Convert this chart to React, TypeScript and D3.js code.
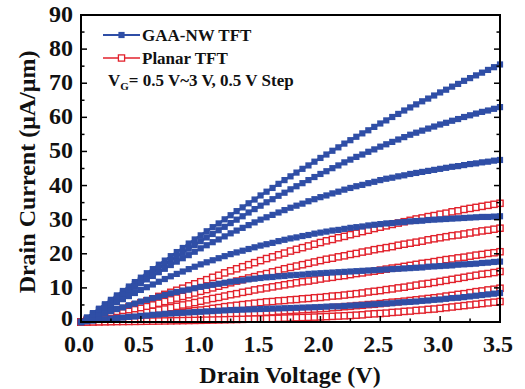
import React from "react";
import * as d3 from "d3";

const VD = [0,0.05,0.1,0.15,0.2,0.25,0.3,0.35,0.4,0.45,0.5,0.55,0.6,0.65,0.7,0.75,0.8,0.85,0.9,0.95,1,1.05,1.1,1.15,1.2,1.25,1.3,1.35,1.4,1.45,1.5,1.55,1.6,1.65,1.7,1.75,1.8,1.85,1.9,1.95,2,2.05,2.1,2.15,2.2,2.25,2.3,2.35,2.4,2.45,2.5,2.55,2.6,2.65,2.7,2.75,2.8,2.85,2.9,2.95,3,3.05,3.1,3.15,3.2,3.25,3.3,3.35,3.4,3.45,3.5];

// GAA-NW TFT, VG = 3.0 ... 0.5 V
const gaa30 = [0,1.3,2.6,3.9,5.2,6.5,7.8,9.1,10.4,11.7,13.0,14.3,15.5,16.8,18.0,19.3,20.5,21.7,23.0,24.2,25.4,26.6,27.8,28.9,30.1,31.3,32.5,33.6,34.8,35.9,37.1,38.2,39.3,40.5,41.6,42.7,43.8,44.9,45.9,47.0,48.1,49.1,50.2,51.2,52.3,53.3,54.3,55.3,56.2,57.2,58.2,59.1,60.1,61.0,62.0,62.9,63.8,64.7,65.5,66.4,67.3,68.1,69.0,69.8,70.7,71.5,72.3,73.1,73.9,74.7,75.5];
const gaa25 = [0,1.2,2.5,3.7,5.0,6.2,7.4,8.6,9.9,11.1,12.3,13.5,14.6,15.8,16.9,18.1,19.2,20.3,21.5,22.6,23.7,24.8,25.8,26.9,27.9,29.0,30.0,31.0,32.1,33.1,34.1,35.1,36.0,37.0,37.9,38.9,39.8,40.7,41.6,42.5,43.4,44.2,45.1,45.9,46.8,47.6,48.4,49.1,49.9,50.6,51.4,52.1,52.8,53.5,54.2,54.9,55.5,56.1,56.7,57.3,57.9,58.4,59.0,59.5,60.1,60.6,61.1,61.6,62.0,62.5,63.0];
const gaa20 = [0,1.2,2.3,3.5,4.6,5.8,6.9,8.0,9.2,10.3,11.4,12.5,13.5,14.6,15.6,16.7,17.7,18.7,19.6,20.6,21.6,22.5,23.4,24.2,25.1,26.0,26.8,27.6,28.4,29.2,30.0,30.7,31.4,32.1,32.8,33.5,34.1,34.7,35.4,36.0,36.6,37.1,37.7,38.2,38.8,39.3,39.8,40.2,40.7,41.1,41.6,42.0,42.3,42.7,43.0,43.4,43.7,44.0,44.3,44.6,44.9,45.2,45.5,45.7,46.0,46.3,46.5,46.8,47.0,47.3,47.5];
const gaa15 = [0,1.0,2.0,2.9,3.9,4.9,5.8,6.7,7.6,8.5,9.4,10.2,11.0,11.8,12.6,13.4,14.1,14.8,15.5,16.2,16.9,17.5,18.1,18.7,19.3,19.9,20.4,20.9,21.4,21.9,22.4,22.8,23.2,23.7,24.1,24.5,24.8,25.2,25.5,25.9,26.2,26.5,26.8,27.0,27.3,27.6,27.8,28.0,28.3,28.5,28.7,28.9,29.0,29.2,29.3,29.5,29.6,29.7,29.9,30.0,30.1,30.2,30.3,30.4,30.5,30.6,30.7,30.8,30.8,30.9,31.0];
const gaa10 = [0,0.6,1.3,1.9,2.6,3.2,3.8,4.3,4.9,5.4,6.0,6.5,7.0,7.4,7.9,8.4,8.8,9.2,9.5,9.9,10.3,10.6,10.9,11.2,11.5,11.8,12.0,12.2,12.5,12.7,12.9,13.1,13.2,13.4,13.5,13.7,13.8,13.9,14.1,14.2,14.3,14.4,14.5,14.6,14.7,14.8,14.9,15.0,15.1,15.2,15.3,15.4,15.5,15.6,15.7,15.8,15.9,16.0,16.2,16.3,16.4,16.5,16.6,16.8,16.9,17.0,17.1,17.3,17.4,17.6,17.7];
const gaa05 = [0,0.2,0.4,0.6,0.8,1.0,1.2,1.3,1.5,1.6,1.8,1.9,2.1,2.2,2.4,2.5,2.6,2.7,2.8,2.9,3.0,3.1,3.2,3.3,3.4,3.5,3.56,3.62,3.68,3.74,3.8,3.86,3.92,3.98,4.04,4.1,4.16,4.22,4.28,4.34,4.4,4.5,4.6,4.6,4.7,4.8,4.9,5.0,5.1,5.2,5.3,5.4,5.5,5.7,5.8,5.9,6.0,6.2,6.3,6.5,6.6,6.8,7.0,7.1,7.3,7.5,7.7,7.9,8.1,8.3,8.5];

// Planar TFT, VG = 3.0 ... 0.5 V
const pl30 = [0,0.5,1.0,1.6,2.1,2.6,3.2,3.8,4.4,5.0,5.6,6.2,6.8,7.5,8.1,8.7,9.3,9.9,10.6,11.2,11.8,12.4,13.1,13.7,14.4,15.0,15.6,16.2,16.8,17.4,18.0,18.6,19.1,19.7,20.2,20.8,21.3,21.8,22.3,22.8,23.3,23.8,24.2,24.7,25.1,25.6,26.0,26.5,26.9,27.4,27.8,28.2,28.6,29.0,29.4,29.8,30.2,30.5,30.9,31.2,31.6,31.9,32.3,32.6,33.0,33.3,33.6,33.9,34.2,34.5,34.8];
const pl25 = [0,0.4,0.7,1.1,1.4,1.8,2.2,2.7,3.1,3.6,4.0,4.5,5.0,5.5,6.0,6.5,7.0,7.5,8.0,8.5,9.0,9.5,10.0,10.5,11.0,11.5,12.0,12.4,12.9,13.3,13.8,14.2,14.7,15.1,15.6,16.0,16.4,16.8,17.2,17.6,18.0,18.4,18.7,19.1,19.4,19.8,20.1,20.5,20.8,21.2,21.5,21.8,22.1,22.5,22.8,23.1,23.4,23.7,24.1,24.4,24.7,25.0,25.3,25.5,25.8,26.1,26.4,26.7,26.9,27.2,27.5];
const pl20 = [0,0.2,0.4,0.6,0.8,1.0,1.3,1.6,1.8,2.1,2.4,2.8,3.1,3.5,3.8,4.2,4.6,5.0,5.3,5.7,6.1,6.5,6.9,7.2,7.6,8.0,8.3,8.7,9.0,9.4,9.7,10.0,10.3,10.6,10.9,11.2,11.5,11.8,12.0,12.3,12.6,12.9,13.1,13.4,13.6,13.9,14.2,14.4,14.7,14.9,15.2,15.5,15.8,16.0,16.3,16.6,16.9,17.2,17.4,17.7,18.0,18.3,18.5,18.8,19.0,19.3,19.6,19.8,20.1,20.3,20.6];
const pl15 = [0,0.1,0.2,0.3,0.4,0.5,0.7,0.8,1.0,1.1,1.3,1.5,1.7,1.9,2.1,2.3,2.5,2.8,3.0,3.3,3.5,3.7,4.0,4.2,4.5,4.7,4.9,5.1,5.3,5.5,5.7,5.9,6.0,6.2,6.3,6.5,6.6,6.8,6.9,7.1,7.2,7.4,7.6,7.7,7.9,8.1,8.3,8.5,8.8,9.0,9.2,9.5,9.7,10.0,10.2,10.5,10.8,11.1,11.3,11.6,11.9,12.2,12.5,12.8,13.1,13.4,13.7,14.0,14.2,14.5,14.8];
const pl10 = [0,0.04,0.08,0.12,0.16,0.2,0.26,0.32,0.38,0.44,0.5,0.6,0.7,0.8,0.9,1.0,1.1,1.2,1.4,1.5,1.6,1.7,1.8,2.0,2.1,2.2,2.3,2.4,2.6,2.7,2.8,2.9,3.0,3.2,3.3,3.4,3.5,3.6,3.7,3.8,3.9,4.0,4.2,4.3,4.5,4.6,4.8,4.9,5.1,5.2,5.4,5.6,5.8,5.9,6.1,6.3,6.5,6.7,6.9,7.1,7.3,7.6,7.8,8.1,8.3,8.6,8.9,9.1,9.4,9.6,9.9];
const pl05 = [0,0.02,0.04,0.06,0.08,0.1,0.12,0.14,0.16,0.18,0.2,0.23,0.26,0.29,0.32,0.35,0.38,0.41,0.44,0.47,0.5,0.54,0.58,0.62,0.66,0.7,0.74,0.78,0.82,0.86,0.9,0.96,1.02,1.08,1.14,1.2,1.26,1.32,1.38,1.44,1.5,1.58,1.66,1.74,1.82,1.9,2.0,2.1,2.3,2.4,2.5,2.6,2.8,2.9,3.1,3.2,3.4,3.5,3.7,3.8,4.0,4.2,4.4,4.6,4.8,5.0,5.2,5.4,5.6,5.8,6.0];

const GAA = [gaa30, gaa25, gaa20, gaa15, gaa10, gaa05];
const PLANAR = [pl30, pl25, pl20, pl15, pl10, pl05];

const X_TICKS = [0, 0.5, 1.0, 1.5, 2.0, 2.5, 3.0, 3.5];
const Y_TICKS = [0, 10, 20, 30, 40, 50, 60, 70, 80, 90];
const LEGEND = ["GAA-NW TFT", "Planar TFT"];

const BLUE = "#2f4ea6";
const RED = "#e2222c";
const FONT = "'Liberation Serif', 'Times New Roman', serif";

export default function App() {
  const W = 525, H = 389;
  const x = d3.scaleLinear().domain([0, 3.5]).range([81, 500]);
  const y = d3.scaleLinear().domain([0, 90]).range([322, 15]);
  const line = d3.line<number>().x((_, i) => x(VD[i])).y((d) => y(d));

  const xMinor = d3.range(0, 3.5001, 0.25);
  const yMinor = d3.range(0, 90.001, 5);
  const ms = 6.2;

  return (
    <svg width={W} height={H} style={{ position: "absolute", left: 0, top: 0, background: "#fff" }} fontFamily={FONT}>
      <rect x={0} y={0} width={W} height={H} fill="#fff" />
      {/* planar curves */}
      {PLANAR.map((s, k) => (
        <g key={"p" + k}>
          <path d={line(s) || ""} fill="none" stroke={RED} strokeWidth={1.2} />
          {s.map((v, i) => (
            <rect key={i} x={x(VD[i]) - ms / 2} y={y(v) - ms / 2} width={ms} height={ms} fill="#fff" stroke={RED} strokeWidth={1.4} />
          ))}
        </g>
      ))}
      {/* GAA curves */}
      {GAA.map((s, k) => (
        <g key={"g" + k}>
          <path d={line(s) || ""} fill="none" stroke={BLUE} strokeWidth={2.4} />
          {s.map((v, i) => (
            <rect key={i} x={x(VD[i]) - ms / 2} y={y(v) - ms / 2} width={ms} height={ms} fill={BLUE} />
          ))}
        </g>
      ))}
      {/* frame */}
      <rect x={x(0)} y={y(90)} width={x(3.5) - x(0)} height={y(0) - y(90)} fill="none" stroke="#000" strokeWidth={2} />
      {/* ticks */}
      {xMinor.map((t, i) => {
        const major = i % 2 === 0;
        const len = major ? 6 : 3.5;
        return <line key={"xt" + i} x1={x(t)} x2={x(t)} y1={y(0)} y2={y(0) - len} stroke="#000" strokeWidth={1.5} />;
      })}
      {yMinor.map((t, i) => {
        const major = i % 2 === 0;
        const len = major ? 6 : 3.5;
        return (
          <g key={"yt" + i}>
            <line x1={x(0)} x2={x(0) + len} y1={y(t)} y2={y(t)} stroke="#000" strokeWidth={1.5} />
            <line x1={x(3.5)} x2={x(3.5) - len} y1={y(t)} y2={y(t)} stroke="#000" strokeWidth={1.5} />
          </g>
        );
      })}
      {X_TICKS.map((t) => (
        <text key={"xl" + t} x={x(t) - 2} y={352} textAnchor="middle" fontSize={24} fontWeight="bold" fill="#111">
          {t.toFixed(1)}
        </text>
      ))}
      {Y_TICKS.map((t) => (
        <text key={"yl" + t} x={73} y={y(t) + (t === 0 ? 4 : 7)} textAnchor="end" fontSize={24} fontWeight="bold" fill="#111">
          {t}
        </text>
      ))}
      <text x={290} y={383} textAnchor="middle" fontSize={24} fontWeight="bold" fill="#111">
        Drain Voltage (V)
      </text>
      <text transform={`translate(35,${172}) rotate(-90)`} textAnchor="middle" fontSize={24} fontWeight="bold" fill="#111">
        Drain Current (μA/μm)
      </text>
      {/* legend */}
      <g>
        <line x1={103} x2={140} y1={35} y2={35} stroke={BLUE} strokeWidth={2.2} />
        <rect x={121.5 - ms / 2} y={35 - ms / 2} width={ms} height={ms} fill={BLUE} />
        <text x={142} y={41} fontSize={17} fontWeight="bold" fill="#111">{LEGEND[0]}</text>
        <line x1={103} x2={140} y1={58} y2={58} stroke={RED} strokeWidth={1.5} />
        <rect x={121.5 - ms / 2} y={58 - ms / 2} width={ms} height={ms} fill="#fff" stroke={RED} strokeWidth={1.3} />
        <text x={142} y={64} fontSize={17} fontWeight="bold" fill="#111">{LEGEND[1]}</text>
        <text x={108} y={86} fontSize={17} fontWeight="bold" fill="#111">
          V<tspan fontSize={11} dy={4}>G</tspan><tspan dy={-4}>= 0.5 V~3 V, 0.5 V Step</tspan>
        </text>
      </g>
    </svg>
  );
}
